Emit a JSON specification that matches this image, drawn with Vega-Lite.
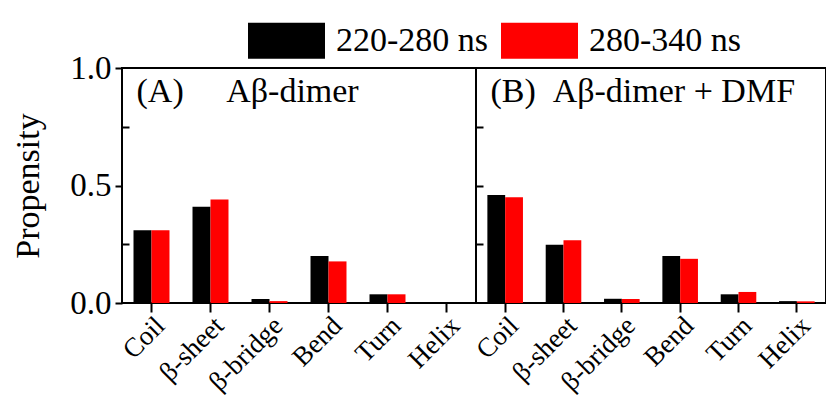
{
  "$schema": "https://vega.github.io/schema/vega-lite/v6.json",
  "padding": {"left": 10, "top": 2, "right": 2, "bottom": 0},
  "background": "white",
  "bounds": "flush",
  "datasets": {
    "bars": [
      {"panel": "A", "structure": "Coil", "period": "220-280 ns", "value": 0.31},
      {"panel": "A", "structure": "Coil", "period": "280-340 ns", "value": 0.31},
      {"panel": "A", "structure": "β-sheet", "period": "220-280 ns", "value": 0.41},
      {"panel": "A", "structure": "β-sheet", "period": "280-340 ns", "value": 0.44},
      {"panel": "A", "structure": "β-bridge", "period": "220-280 ns", "value": 0.017},
      {"panel": "A", "structure": "β-bridge", "period": "280-340 ns", "value": 0.008},
      {"panel": "A", "structure": "Bend", "period": "220-280 ns", "value": 0.2},
      {"panel": "A", "structure": "Bend", "period": "280-340 ns", "value": 0.177},
      {"panel": "A", "structure": "Turn", "period": "220-280 ns", "value": 0.037},
      {"panel": "A", "structure": "Turn", "period": "280-340 ns", "value": 0.037},
      {"panel": "A", "structure": "Helix", "period": "220-280 ns", "value": 0},
      {"panel": "A", "structure": "Helix", "period": "280-340 ns", "value": 0},
      {"panel": "B", "structure": "Coil", "period": "220-280 ns", "value": 0.46},
      {"panel": "B", "structure": "Coil", "period": "280-340 ns", "value": 0.45},
      {"panel": "B", "structure": "β-sheet", "period": "220-280 ns", "value": 0.248},
      {"panel": "B", "structure": "β-sheet", "period": "280-340 ns", "value": 0.267},
      {"panel": "B", "structure": "β-bridge", "period": "220-280 ns", "value": 0.018},
      {"panel": "B", "structure": "β-bridge", "period": "280-340 ns", "value": 0.017},
      {"panel": "B", "structure": "Bend", "period": "220-280 ns", "value": 0.2},
      {"panel": "B", "structure": "Bend", "period": "280-340 ns", "value": 0.188},
      {"panel": "B", "structure": "Turn", "period": "220-280 ns", "value": 0.037},
      {"panel": "B", "structure": "Turn", "period": "280-340 ns", "value": 0.047},
      {"panel": "B", "structure": "Helix", "period": "220-280 ns", "value": 0.008},
      {"panel": "B", "structure": "Helix", "period": "280-340 ns", "value": 0.007}
    ]
  },
  "spacing": 0,
  "hconcat": [
    {
      "width": 354,
      "height": 235,
      "layer": [
        {
          "data": {"name": "bars"},
          "transform": [{"filter": "datum.panel === 'A'"}],
          "mark": {"type": "bar"},
          "encoding": {
            "x": {
              "field": "structure", "type": "nominal",
              "sort": ["Coil", "β-sheet", "β-bridge", "Bend", "Turn", "Helix"],
              "scale": {"paddingInner": 0.39, "paddingOuter": 0.195},
              "axis": {"title": null, "labelAngle": -45, "labelFontSize": 27, "tickSize": 9, "domain": false, "labelPadding": 0}
            },
            "xOffset": {"field": "period", "type": "nominal", "scale": {"paddingInner": 0, "paddingOuter": 0}},
            "y": {
              "field": "value", "type": "quantitative",
              "scale": {"domain": [0, 1], "nice": false},
              "axis": {"values": [0, 0.5, 1], "format": ".1f", "tickSize": 7, "labelPadding": 4, "labelFontSize": 33, "title": "Propensity", "titleFontSize": 34, "titleFontWeight": "normal", "titlePadding": 24, "domain": false, "grid": false}
            },
            "color": {
              "field": "period", "type": "nominal",
              "scale": {"domain": ["220-280 ns", "280-340 ns"], "range": ["#000000", "#ff0000"]},
              "legend": {
                "orient": "none", "direction": "horizontal", "legendX": 126, "legendY": -66,
                "title": null, "symbolType": "M-1,-0.468H1V0.468H-1Z", "symbolSize": 5929, "symbolStrokeWidth": 0,
                "labelFontSize": 34, "labelFont": "Liberation Serif", "labelOffset": 11, "columnPadding": 12, "labelColor": "black", "labelLimit": 0
              }
            }
          }
        },
        {
          "data": {"values": [{"structure": "Coil", "value": 0.9, "label": "(A)\u00a0\u00a0\u00a0\u00a0\u00a0Aβ-dimer"}]},
          "mark": {"type": "text", "align": "left", "baseline": "middle", "font": "Liberation Serif", "fontSize": 34, "dx": 3, "color": "black"},
          "encoding": {
            "x": {"field": "structure", "type": "nominal", "bandPosition": 0, "sort": ["Coil", "β-sheet", "β-bridge", "Bend", "Turn", "Helix"]},
            "y": {"field": "value", "type": "quantitative", "axis": {"orient": "left", "values": [0.25, 0.75], "tickSize": -7, "labels": false, "domain": false, "title": null, "grid": false, "minExtent": 0}},
            "text": {"field": "label"}
          }
        }
      ],
      "resolve": {"axis": {"y": "independent"}}
    },
    {
      "width": 350,
      "height": 235,
      "layer": [
        {
          "data": {"name": "bars"},
          "transform": [{"filter": "datum.panel === 'B'"}],
          "mark": {"type": "bar"},
          "encoding": {
            "x": {
              "field": "structure", "type": "nominal",
              "sort": ["Coil", "β-sheet", "β-bridge", "Bend", "Turn", "Helix"],
              "scale": {"paddingInner": 0.39, "paddingOuter": 0.195},
              "axis": {"title": null, "labelAngle": -45, "labelFontSize": 27, "tickSize": 9, "domain": false, "labelPadding": 0}
            },
            "xOffset": {"field": "period", "type": "nominal", "scale": {"paddingInner": 0, "paddingOuter": 0}},
            "y": {
              "field": "value", "type": "quantitative",
              "scale": {"domain": [0, 1], "nice": false},
              "axis": {"values": [0.25, 0.5, 0.75], "tickSize": -7, "labels": false, "title": null, "domain": false, "grid": false, "minExtent": 0}
            },
            "color": {"field": "period", "type": "nominal", "scale": {"domain": ["220-280 ns", "280-340 ns"], "range": ["#000000", "#ff0000"]}}
          }
        },
        {
          "data": {"values": [{"structure": "Coil", "value": 0.9, "label": "(B)\u00a0\u00a0Aβ-dimer + DMF"}]},
          "mark": {"type": "text", "align": "left", "baseline": "middle", "font": "Liberation Serif", "fontSize": 34, "dx": 3, "color": "black"},
          "encoding": {
            "x": {"field": "structure", "type": "nominal", "bandPosition": 0, "sort": ["Coil", "β-sheet", "β-bridge", "Bend", "Turn", "Helix"]},
            "y": {"field": "value", "type": "quantitative"},
            "text": {"field": "label"}
          }
        }
      ]
    }
  ],
  "resolve": {"scale": {"x": "independent", "xOffset": "independent", "y": "independent", "color": "shared"}},
  "config": {
    "view": {"stroke": "black", "strokeWidth": 2},
    "font": "Liberation Serif",
    "axis": {"labelFont": "Liberation Serif", "titleFont": "Liberation Serif", "labelColor": "black", "titleColor": "black", "tickColor": "black", "tickWidth": 2, "domainColor": "black", "grid": false}
  }
}
